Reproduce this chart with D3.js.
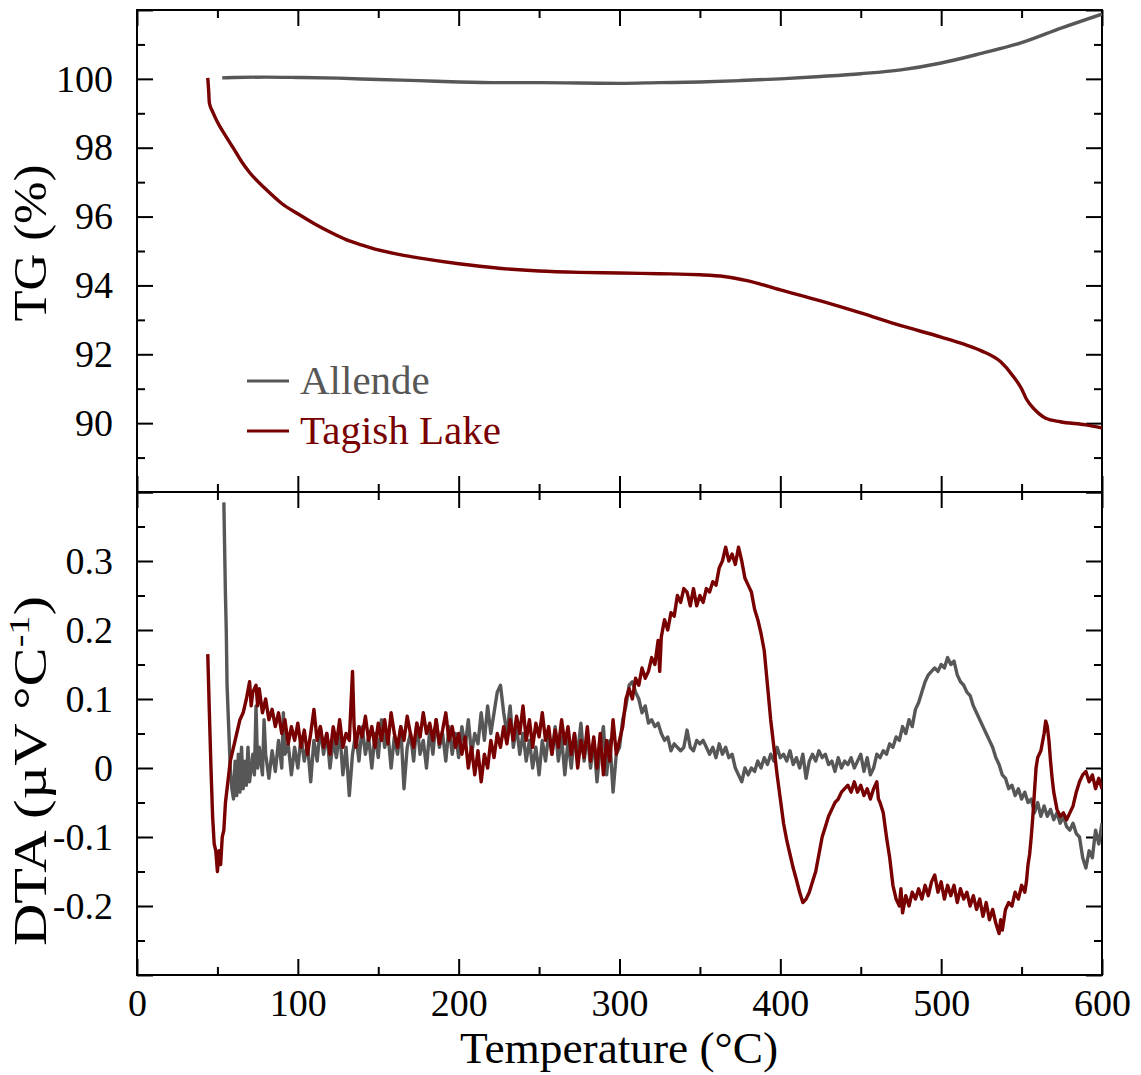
<!DOCTYPE html>
<html>
<head>
<meta charset="utf-8">
<script src="https://cdn.jsdelivr.net/npm/d3@7"></script>
<style>
    body { margin: 0; background: #fff; }
    text { font-family: "Liberation Serif", "Times New Roman", serif; }
    .tick line { stroke: #000; stroke-width: 2px; }
    .domain { display: none; }
</style>
</head>
<body>
<div id="chart"></div>
<script>

// ---- data: [temperature °C, value] ----
const tgAllende = [[53,100.03],[60,100.04],[80,100.05],[100,100.04],[125,100.02],[150,99.98],[175,99.95],[200,99.91],
    [225,99.89],[250,99.89],[275,99.88],[300,99.87],[325,99.89],[350,99.91],[375,99.95],[400,100.0],[425,100.07],
    [450,100.15],[475,100.26],[500,100.46],[525,100.74],[550,101.05],[575,101.48],[600,101.88]];

const tgTagish = [[44,100.03],[44.5,99.7],[45,99.3],[47,99.05],[50,98.75],[55,98.35],[60,97.98],[65,97.6],[70,97.28],
    [80,96.8],[90,96.38],[100,96.08],[110,95.8],[120,95.55],[130,95.33],[140,95.17],[150,95.03],[165,94.88],[175,94.8],
    [200,94.63],[225,94.5],[250,94.42],[275,94.38],[300,94.36],[325,94.34],[350,94.31],[365,94.26],[380,94.13],
    [400,93.87],[425,93.55],[450,93.2],[475,92.83],[500,92.5],[515,92.28],[525,92.1],[537,91.78],[545,91.35],
    [550,91.0],[553,90.7],[557,90.45],[561,90.27],[565,90.14],[574,90.04],[590,89.95],[600,89.86]];

const dtaAllende = [[54,0.385],[55,0.25],[55.5,0.2],[56,0.12],[57,0.06],[58,0.0],[59,-0.03],[60,-0.045],
    [61,0.01],[62,-0.04],[63,0.02],[64,-0.035],[65,0.03],[66,-0.03],[67,0.01],[68,-0.025],[69,0.03],[70,-0.02],
    [72,0.02],[73,-0.01],[74,0.09],[75,0.0],[76,0.03],[78,-0.01],[79,0.07],[80,0.02],[82,-0.015],[84,0.025],
    [86,-0.005],[88,0.04],[90,0.0],[91,0.08],[92,0.02],[94,0.035],[96,-0.01],[98,0.03],[100,0.0],[102,0.045],
    [104,0.01],[106,0.035],[108,-0.02],[110,0.04],[112,0.01],[114,0.06],[116,0.02],[118,0.05],[120,0.0],[122,0.04],
    [124,0.015],[126,0.055],[128,-0.01],[130,0.03],[132,-0.04],[134,0.02],[136,0.05],[138,0.01],[140,0.06],
    [142,0.02],[144,0.045],[146,0.0],[148,0.05],[150,0.015],[152,0.07],[154,0.03],[156,0.05],[158,0.0],[160,0.045],
    [162,0.02],[164,0.06],[166,-0.03],[168,0.03],[170,0.05],[172,0.01],[174,0.065],[176,0.02],[178,0.04],[180,0.0],
    [182,0.055],[184,0.02],[186,0.07],[188,0.03],[190,0.05],[192,0.01],[194,0.06],[196,0.02],[198,0.05],[200,0.015],
    [202,0.06],[204,0.03],[206,0.07],[208,0.02],[210,0.05],[212,0.035],[214,0.08],[216,0.04],[218,0.09],[220,0.05],
    [222,0.08],[224,0.11],[226,0.12],[228,0.08],[230,0.05],[232,0.09],[234,0.03],[236,0.06],[238,0.02],[240,0.05],
    [242,0.01],[244,0.04],[246,0.0],[248,0.03],[250,-0.01],[252,0.04],[254,0.01],[256,0.05],[258,0.02],[260,0.06],
    [262,0.01],[264,0.045],[266,-0.01],[268,0.04],[270,0.0],[272,0.05],[274,0.02],[276,0.065],[278,0.01],[280,0.05],
    [282,0.0],[284,0.04],[286,-0.02],[288,0.03],[290,0.06],[292,-0.01],[294,0.04],[296,-0.035],[298,0.02],[300,0.03],
    [302,0.07],[304,0.09],[306,0.12],[308,0.125],[310,0.11],[312,0.1],[314,0.08],[316,0.09],[318,0.065],[320,0.07],
    [322,0.06],[324,0.065],[326,0.05],[328,0.04],[330,0.045],[332,0.025],[334,0.035],[336,0.03],[338,0.025],
    [340,0.03],[342,0.055],[344,0.03],[346,0.025],[348,0.04],[350,0.035],[352,0.04],[354,0.03],[356,0.02],[358,0.03],
    [360,0.015],[362,0.035],[364,0.02],[366,0.03],[368,0.015],[370,0.02],[372,0.0],[374,-0.01],[376,-0.02],[378,0.0],
    [380,-0.01],[382,0.0],[384,-0.005],[386,0.01],[388,0.0],[390,0.015],[392,0.005],[394,0.02],[396,0.01],[398,0.03],
    [400,0.015],[402,0.02],[404,0.01],[406,0.025],[408,0.005],[410,0.015],[412,0.0],[414,0.02],[416,-0.015],
    [418,0.01],[420,0.02],[422,0.01],[424,0.025],[426,0.015],[428,0.02],[430,0.005],[432,0.01],[434,-0.005],
    [436,0.015],[438,0.0],[440,0.01],[442,0.005],[444,0.015],[446,0.0],[448,0.01],[450,0.02],[452,-0.005],
    [454,0.015],[456,-0.01],[458,0.0],[460,0.02],[462,0.015],[464,0.025],[466,0.02],[468,0.035],[470,0.03],
    [472,0.045],[474,0.04],[476,0.06],[478,0.05],[480,0.07],[482,0.06],[484,0.085],[486,0.095],[488,0.11],
    [490,0.125],[492,0.135],[494,0.14],[496,0.145],[498,0.14],[500,0.15],[502,0.145],[504,0.16],[506,0.15],
    [508,0.155],[510,0.135],[512,0.125],[514,0.12],[516,0.11],[518,0.105],[520,0.09],[522,0.08],[524,0.07],
    [526,0.06],[528,0.05],[530,0.04],[532,0.03],[534,0.015],[536,0.005],[538,-0.01],[540,-0.015],[542,-0.03],
    [544,-0.025],[546,-0.04],[548,-0.03],[550,-0.045],[552,-0.035],[554,-0.05],[556,-0.045],[558,-0.065],
    [560,-0.05],[562,-0.07],[564,-0.055],[566,-0.07],[568,-0.06],[570,-0.075],[572,-0.065],[574,-0.08],[576,-0.07],
    [578,-0.085],[580,-0.09],[582,-0.08],[584,-0.095],[586,-0.1],[588,-0.13],[590,-0.145],[592,-0.12],[594,-0.13],
    [596,-0.09],[598,-0.11],[600,-0.08]];

const dtaTagish = [[44,0.165],[45,0.08],[46,0.0],[47,-0.07],[48,-0.11],[49,-0.12],[50,-0.15],[51,-0.12],[52,-0.14],
    [53,-0.1],[54,-0.09],[55,-0.05],[56,-0.03],[57,-0.01],[58,0.01],[60,0.03],[62,0.05],[64,0.07],[66,0.08],
    [68,0.1],[70,0.125],[71,0.09],[72,0.11],[74,0.12],[75,0.09],[76,0.115],[78,0.08],[80,0.1],[82,0.07],[84,0.085],
    [86,0.06],[88,0.08],[90,0.05],[92,0.07],[94,0.035],[96,0.06],[98,0.04],[100,0.065],[102,0.03],[104,0.055],
    [106,0.02],[108,0.05],[110,0.085],[112,0.04],[114,0.06],[116,0.03],[118,0.05],[120,0.02],[122,0.06],[124,0.035],
    [126,0.07],[128,0.03],[130,0.05],[132,0.04],[134,0.14],[135,0.06],[136,0.03],[138,0.06],[140,0.045],[142,0.075],
    [144,0.04],[146,0.06],[148,0.03],[150,0.065],[152,0.04],[154,0.07],[156,0.035],[158,0.08],[160,0.05],[162,0.03],
    [164,0.06],[166,0.04],[168,0.075],[170,0.05],[172,0.03],[174,0.065],[176,0.045],[178,0.08],[180,0.05],
    [182,0.065],[184,0.04],[186,0.07],[188,0.035],[190,0.055],[192,0.08],[194,0.04],[196,0.06],[198,0.03],[200,0.05],
    [202,0.02],[204,0.045],[206,0.0],[208,0.03],[210,-0.01],[212,0.025],[214,-0.02],[216,0.02],[218,0.0],[220,0.04],
    [222,0.015],[224,0.05],[226,0.03],[228,0.06],[230,0.035],[232,0.07],[234,0.04],[236,0.075],[238,0.05],[240,0.09],
    [242,0.04],[244,0.07],[246,0.03],[248,0.065],[250,0.045],[252,0.08],[254,0.04],[256,0.06],[258,0.02],[260,0.055],
    [262,0.03],[264,0.07],[266,0.035],[268,0.06],[270,0.02],[272,0.05],[274,0.0],[276,0.04],[278,0.015],[280,0.06],
    [282,0.01],[284,0.045],[286,0.0],[288,0.05],[290,-0.01],[292,0.04],[294,0.01],[296,0.07],[298,0.02],[300,0.04],
    [302,0.06],[304,0.1],[306,0.115],[308,0.1],[310,0.13],[312,0.12],[314,0.145],[316,0.13],[318,0.14],[320,0.16],
    [322,0.15],[324,0.185],[325,0.14],[326,0.19],[328,0.215],[330,0.2],[332,0.225],[334,0.22],[336,0.25],[338,0.24],
    [340,0.26],[342,0.255],[344,0.235],[346,0.26],[348,0.235],[350,0.25],[352,0.24],[354,0.26],[356,0.255],
    [358,0.27],[360,0.265],[362,0.29],[364,0.3],[366,0.32],[368,0.3],[370,0.31],[372,0.295],[374,0.32],[376,0.3],
    [378,0.275],[380,0.265],[382,0.255],[384,0.23],[386,0.215],[388,0.195],[390,0.17],[392,0.12],[394,0.07],
    [396,0.03],[398,-0.01],[400,-0.045],[402,-0.08],[404,-0.105],[406,-0.125],[408,-0.145],[410,-0.162],[412,-0.18],
    [414,-0.195],[416,-0.19],[418,-0.18],[420,-0.165],[422,-0.15],[424,-0.125],[426,-0.1],[428,-0.085],[430,-0.07],
    [432,-0.06],[434,-0.05],[436,-0.045],[438,-0.035],[440,-0.03],[442,-0.025],[444,-0.035],[446,-0.02],[448,-0.035],
    [450,-0.025],[452,-0.04],[454,-0.03],[456,-0.045],[458,-0.03],[460,-0.02],[461,-0.045],[462,-0.05],[464,-0.065],
    [466,-0.1],[468,-0.13],[470,-0.17],[472,-0.19],[474,-0.2],[475,-0.175],[476,-0.21],[478,-0.185],[480,-0.2],
    [482,-0.18],[484,-0.19],[486,-0.175],[488,-0.19],[490,-0.17],[492,-0.185],[494,-0.165],[496,-0.155],[498,-0.18],
    [500,-0.165],[502,-0.19],[504,-0.17],[506,-0.185],[508,-0.17],[510,-0.195],[512,-0.175],[514,-0.19],[516,-0.18],
    [518,-0.2],[520,-0.185],[522,-0.205],[524,-0.19],[526,-0.215],[528,-0.195],[530,-0.22],[532,-0.205],
    [534,-0.225],[536,-0.24],[537,-0.22],[538,-0.235],[540,-0.205],[542,-0.195],[544,-0.2],[546,-0.18],[548,-0.19],
    [550,-0.17],[552,-0.18],[553,-0.165],[554,-0.14],[555,-0.125],[556,-0.1],[557,-0.07],[558,-0.035],[559,0.0],
    [560,0.015],[562,0.025],[564,0.05],[565,0.068],[566,0.06],[567,0.04],[568,0.01],[569,-0.015],[570,-0.035],
    [572,-0.06],[574,-0.07],[576,-0.065],[578,-0.075],[580,-0.065],[582,-0.055],[584,-0.035],[586,-0.02],
    [588,-0.01],[590,-0.005],[592,-0.02],[594,-0.01],[596,-0.03],[598,-0.015],[600,-0.03]];

// axis ticks
const xMajor = [0, 100, 200, 300, 400, 500, 600];
const xMinor = [50, 150, 250, 350, 450, 550];
const tgMajor = [88, 90, 92, 94, 96, 98, 100, 102];
const tgMinor = [89, 91, 93, 95, 97, 99, 101];
const dtaMajor = [-0.3, -0.2, -0.1, 0, 0.1, 0.2, 0.3, 0.4];
const dtaMinor = [-0.25, -0.15, -0.05, 0.05, 0.15, 0.25, 0.35];

const seriesNames = ["Allende", "Tagish Lake"];
const seriesColors = ["#575757", "#780000"];

// ---- layout ----
const W = 1141, H = 1075;
const left = 137, right = 1102;
const topY0 = 10, midY = 492, botY1 = 975;

const svg = d3.select("#chart").append("svg")
    .attr("width", W)
    .attr("height", H);

const x = d3.scaleLinear().domain([0, 600]).range([left, right]);
const yTG = d3.scaleLinear().domain([88, 102]).range([midY, topY0]);
const yDTA = d3.scaleLinear().domain([-0.3, 0.4]).range([botY1, midY]);

const tickFont = 38;

// draw inward ticks for one panel
function panelAxes(y, major, minor, y0, y1, fmt) {
    const g = svg.append("g");

    // left (with labels)
    g.append("g").attr("transform", `translate(${left},0)`)
        .call(d3.axisLeft(y).tickValues(major).tickSize(-16).tickPadding(24).tickFormat(fmt))
        .selectAll("text").style("font-size", tickFont + "px").attr("fill", "#000");
    g.append("g").attr("transform", `translate(${left},0)`)
        .call(d3.axisLeft(y).tickValues(minor).tickSize(-8).tickFormat(""));
    // right
    g.append("g").attr("transform", `translate(${right},0)`)
        .call(d3.axisRight(y).tickValues(major).tickSize(-16).tickFormat(""));
    g.append("g").attr("transform", `translate(${right},0)`)
        .call(d3.axisRight(y).tickValues(minor).tickSize(-8).tickFormat(""));
    // top & bottom edge ticks
    g.append("g").attr("transform", `translate(0,${y0})`)
        .call(d3.axisTop(x).tickValues(xMajor).tickSize(-16).tickFormat(""));
    g.append("g").attr("transform", `translate(0,${y0})`)
        .call(d3.axisTop(x).tickValues(xMinor).tickSize(-8).tickFormat(""));
    g.append("g").attr("transform", `translate(0,${y1})`)
        .call(d3.axisBottom(x).tickValues(xMajor).tickSize(-16).tickFormat(""));
    g.append("g").attr("transform", `translate(0,${y1})`)
        .call(d3.axisBottom(x).tickValues(xMinor).tickSize(-8).tickFormat(""));

    // frame
    svg.append("rect")
        .attr("x", left).attr("y", y0)
        .attr("width", right - left).attr("height", y1 - y0)
        .attr("fill", "none").attr("stroke", "#000").attr("stroke-width", 2);
}

panelAxes(yTG, tgMajor, tgMinor, topY0, midY, d => (d >= 90 && d <= 100) ? d : "");
panelAxes(yDTA, dtaMajor, dtaMinor, midY, botY1, d => {
    if (d < -0.25 || d > 0.35) return "";
    if (Math.abs(d) < 1e-9) return "0";
    return (d < 0 ? "-" : "") + Math.abs(d).toFixed(1);
});

// x labels
svg.append("g").attr("transform", `translate(0,${botY1})`)
    .call(d3.axisBottom(x).tickValues(xMajor).tickSize(0).tickPadding(14).tickFormat(d3.format("d")))
    .selectAll("text").style("font-size", tickFont + "px").attr("fill", "#000");

// ---- lines ----
svg.append("clipPath").attr("id", "clipTop")
    .append("rect").attr("x", left).attr("y", topY0).attr("width", right - left).attr("height", midY - topY0);
svg.append("clipPath").attr("id", "clipBot")
    .append("rect").attr("x", left).attr("y", midY).attr("width", right - left).attr("height", botY1 - midY);

const tgLine = d3.line().x(d => x(d[0])).y(d => yTG(d[1])).curve(d3.curveMonotoneX);
const dtaLine = d3.line().x(d => x(d[0])).y(d => yDTA(d[1]));

[tgAllende, tgTagish].forEach((s, i) => {
    svg.append("path").datum(s)
        .attr("clip-path", "url(#clipTop)")
        .attr("d", tgLine)
        .attr("fill", "none")
        .attr("stroke", seriesColors[i])
        .attr("stroke-width", 3.4);
});

[dtaAllende, dtaTagish].forEach((s, i) => {
    svg.append("path").datum(s)
        .attr("clip-path", "url(#clipBot)")
        .attr("d", dtaLine)
        .attr("fill", "none")
        .attr("stroke", seriesColors[i])
        .attr("stroke-width", 3.4)
        .attr("stroke-linejoin", "round");
});

// ---- legend ----
const legend = svg.append("g");
seriesNames.forEach((name, i) => {
    const ly = 381 + i * 50;
    legend.append("line")
        .attr("x1", 247).attr("x2", 289)
        .attr("y1", ly).attr("y2", ly)
        .attr("stroke", seriesColors[i]).attr("stroke-width", 3.2);
    legend.append("text")
        .attr("x", 300).attr("y", ly + 13)
        .attr("fill", seriesColors[i])
        .style("font-size", "41px")
        .text(name);
});

// ---- axis titles ----
svg.append("text")
    .attr("x", 619).attr("y", 1063)
    .attr("text-anchor", "middle")
    .attr("textLength", 318)
    .attr("lengthAdjust", "spacingAndGlyphs")
    .style("font-size", "45px")
    .text("Temperature (°C)");

svg.append("text")
    .attr("transform", "translate(46,243) rotate(-90)")
    .attr("text-anchor", "middle")
    .attr("textLength", 157)
    .attr("lengthAdjust", "spacingAndGlyphs")
    .style("font-size", "46px")
    .text("TG (%)");

const dtaTitle = svg.append("text")
    .attr("transform", "translate(46,771) rotate(-90)")
    .attr("text-anchor", "middle")
    .attr("textLength", 350)
    .attr("lengthAdjust", "spacingAndGlyphs")
    .style("font-size", "46px");
dtaTitle.append("tspan").text("DTA (µV °C");
dtaTitle.append("tspan").attr("dy", -17).style("font-size", "30px").text("-1");
dtaTitle.append("tspan").attr("dy", 17).text(")");

</script>
</body>
</html>
